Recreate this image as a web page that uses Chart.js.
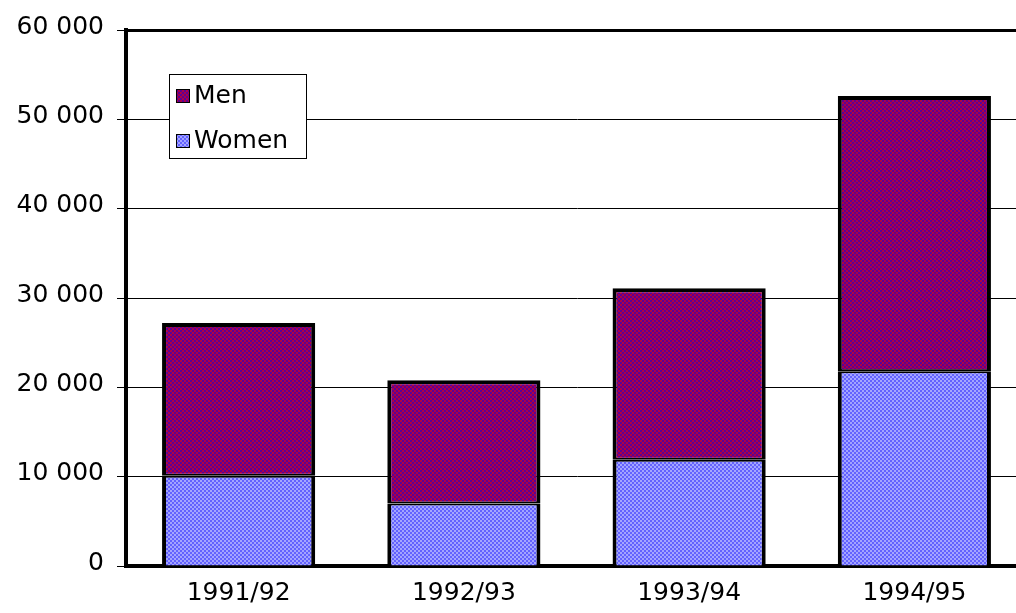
<!DOCTYPE html>
<html>
<head>
<meta charset="utf-8">
<title>Men and Women 1991/92 - 1994/95</title>
<script src="https://cdn.jsdelivr.net/npm/chart.js@4"></script>
<style>
    html, body { margin: 0; padding: 0; overflow: hidden; background: #fff; }
    .chart-wrap { width: 1028px; height: 613px; position: relative; }
</style>
</head>
<body>
<div class="chart-wrap"><canvas id="chart"></canvas></div>
<script>
const categories = ['1991/92', '1992/93', '1993/94', '1994/95'];
const womenValues = [10100, 7000, 11900, 21800];
const menValues = [17100, 13800, 19200, 30800];
const yTickValues = [0, 10000, 20000, 30000, 40000, 50000, 60000];

// checker tiles (2px cells) used as bar fills
function makePattern(a, b) {
    const tile = document.createElement('canvas');
    tile.width = 4;
    tile.height = 4;
    const g = tile.getContext('2d');
    g.fillStyle = a;
    g.fillRect(0, 0, 4, 4);
    g.fillStyle = b;
    g.fillRect(0, 0, 2, 2);
    g.fillRect(2, 2, 2, 2);
    return g.createPattern(tile, 'repeat');
}

const menFill = makePattern('#5c0094', '#ac0048');
const womenFill = makePattern('#6262ff', '#a4a4ff');

function formatThousands(v) {
    return String(v).replace(/\B(?=(\d{3})+(?!\d))/g, ' ');
}

// legend box sits inside the plot, top left
const legendBox = {
    id: 'legendBox',
    afterDraw(chart) {
        const ctx = chart.ctx;
        ctx.save();
        ctx.fillStyle = '#ffffff';
        ctx.fillRect(169.5, 74.5, 137, 84);
        ctx.strokeStyle = '#000000';
        ctx.lineWidth = 1;
        ctx.strokeRect(169.5, 74.5, 137, 84);

        const items = chart.data.datasets.slice().reverse();
        ctx.font = '25px "DejaVu Sans"';
        ctx.textBaseline = 'middle';
        items.forEach((ds, i) => {
            const y = 96 + i * 45;
            ctx.fillStyle = ds.backgroundColor;
            ctx.fillRect(177, y - 6, 12, 12);
            ctx.strokeStyle = '#000000';
            ctx.strokeRect(176.5, y - 6.5, 13, 13);
            ctx.fillStyle = '#000000';
            ctx.fillText(ds.label, 194, y);
        });
        ctx.restore();
    }
};

Chart.defaults.font.family = '"DejaVu Sans"';
Chart.defaults.font.size = 25;
Chart.defaults.color = '#000000';

const ctx = document.getElementById('chart').getContext('2d');
const chart = new Chart(ctx, {
    type: 'bar',
    data: {
        labels: categories,
        datasets: [
            {
                label: 'Women',
                data: womenValues,
                backgroundColor: womenFill,
                borderColor: '#000000',
                borderWidth: { top: 2, left: 4, right: 4, bottom: 0 },
                borderSkipped: false
            },
            {
                label: 'Men',
                data: menValues,
                backgroundColor: menFill,
                borderColor: '#000000',
                borderWidth: { top: 4, left: 4, right: 4, bottom: 2 },
                borderSkipped: false
            }
        ]
    },
    options: {
        responsive: true,
        maintainAspectRatio: false,
        animation: false,
        layout: { padding: { top: 30, left: 0, right: 1, bottom: 0 } },
        datasets: {
            bar: { barPercentage: 1, categoryPercentage: 0.68 }
        },
        plugins: {
            legend: { display: false },
            tooltip: { enabled: false }
        },
        scales: {
            x: {
                stacked: true,
                grid: { display: false },
                border: { display: true, color: '#000000', width: 4 },
                ticks: { padding: 4 },
                afterFit(scale) { scale.height = 47; }
            },
            y: {
                stacked: true,
                min: 0,
                max: 60000,
                afterBuildTicks(scale) {
                    scale.ticks = yTickValues.map(v => ({ value: v }));
                },
                grid: {
                    color: '#000000',
                    lineWidth: c => (c.tick && c.tick.value === 60000 ? 3 : 1),
                    tickLength: 9,
                    tickWidth: 1,
                    tickColor: '#000000'
                },
                border: { display: true, color: '#000000', width: 4 },
                ticks: {
                    padding: 13,
                    labelOffset: -3,
                    callback: v => formatThousands(v)
                },
                afterFit(scale) { scale.width = 126; }
            }
        }
    },
    plugins: [legendBox]
});
</script>
</body>
</html>
